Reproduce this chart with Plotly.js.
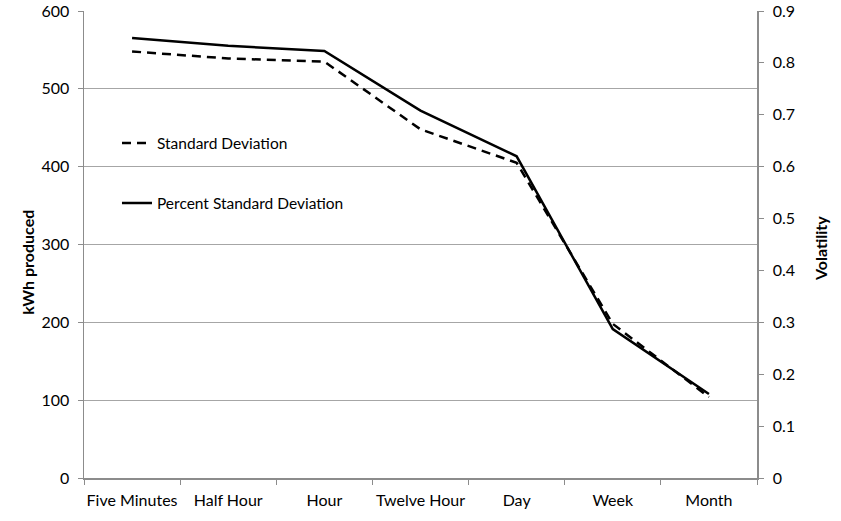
<!DOCTYPE html>
<html>
<head>
<meta charset="utf-8">
<script src="https://cdn.plot.ly/plotly-3.0.1.min.js"></script>
<style>html,body{margin:0;padding:0;background:#fff;}#chart{width:841px;height:521px;}</style>
</head>
<body>
<div id="chart"></div>
<script>
var categories = ["Five Minutes", "Half Hour", "Hour", "Twelve Hour", "Day", "Week", "Month"];
var stdDevKWh = [548, 539, 535, 448, 405, 198, 104];
var pctStdDevVolatility = [0.848, 0.833, 0.823, 0.708, 0.620, 0.287, 0.162];
var leftTicks = [0, 100, 200, 300, 400, 500, 600];
var rightTicks = [0, 0.1, 0.2, 0.3, 0.4, 0.5, 0.6, 0.7, 0.8, 0.9];
var leftTitle = "kWh produced";
var rightTitle = "Volatility";

var font = "Lato, 'Open Sans', sans-serif";
var traces = [
  {
    x: categories, y: stdDevKWh, name: "Standard Deviation", type: "scatter", mode: "lines",
    line: {color: "#000", width: 2.5, dash: "9px,6px"}, legendgroup: "a", yaxis: "y"
  },
  {
    x: categories, y: pctStdDevVolatility, name: "Percent Standard Deviation", type: "scatter", mode: "lines",
    line: {color: "#000", width: 2.5}, legendgroup: "b", yaxis: "y2"
  }
];
var layout = {
  width: 841, height: 521,
  margin: {l: 84, r: 84, t: 11, b: 43},
  paper_bgcolor: "#fff", plot_bgcolor: "#fff",
  font: {family: font, size: 16, color: "#000"},
  showlegend: true,
  legend: {x: 0.049, y: 0.753, xanchor: "left", yanchor: "top", traceorder: "grouped", tracegroupgap: 37,
    font: {family: font, size: 15.5, color: "#000"}, bgcolor: "rgba(0,0,0,0)", itemwidth: 30},
  xaxis: {
    type: "category", range: [-0.5, 6.5], showgrid: false, showline: true, linecolor: "#8c8c8c", linewidth: 1.5,
    ticks: "outside", tickson: "boundaries", ticklen: 5, tickcolor: "#8c8c8c", zeroline: false,
    ticklabelstandoff: 7, tickangle: 0, automargin: false,
    tickfont: {family: font, size: 16, color: "#000"}
  },
  yaxis: {
    range: [0, 600], tickvals: leftTicks, showgrid: true, gridcolor: "#a6a6a6", gridwidth: 1.2,
    showline: true, linecolor: "#8c8c8c", linewidth: 1.5, ticks: "outside", ticklen: 5, tickcolor: "#8c8c8c",
    zeroline: false, ticklabelstandoff: 5, tickfont: {family: font, size: 16, color: "#000"}
  },
  yaxis2: {
    overlaying: "y", side: "right", range: [0, 0.9], tickvals: rightTicks, showgrid: false,
    showline: true, linecolor: "#8c8c8c", linewidth: 1.5, ticks: "outside", ticklen: 5, tickcolor: "#8c8c8c",
    zeroline: false, ticklabelstandoff: 6, tickfont: {family: font, size: 16, color: "#000"}
  },
  annotations: [
    {text: "<b>" + leftTitle + "</b>", xref: "paper", yref: "paper", x: -0.085, y: 0.4625,
     xanchor: "center", yanchor: "middle", textangle: -90, showarrow: false,
     font: {family: font, size: 16, color: "#000"}},
    {text: "<b>" + rightTitle + "</b>", xref: "paper", yref: "paper", x: 1.0936, y: 0.4925,
     xanchor: "center", yanchor: "middle", textangle: -90, showarrow: false,
     font: {family: font, size: 16, color: "#000"}}
  ]
};
Plotly.newPlot("chart", traces, layout, {displayModeBar: false, staticPlot: true});
</script>
</body>
</html>
